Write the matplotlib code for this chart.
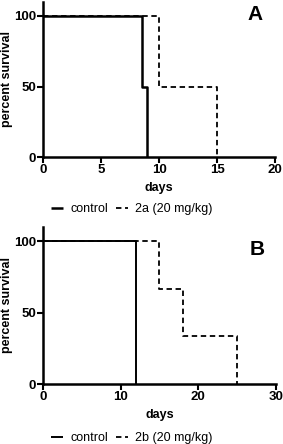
import matplotlib
matplotlib.use("Agg")
import matplotlib.pyplot as plt

plt.rcParams['font.family'] = ['Liberation Sans', 'DejaVu Sans']

# Panel A data
a_ctrl_days = [0, 8.5, 9]
a_ctrl_surv = [100, 50, 0]
a_trt_days = [0, 10, 15]
a_trt_surv = [100, 50, 0]
a_xticks = [0, 5, 10, 15, 20]

# Panel B data
b_ctrl_days = [0, 12]
b_ctrl_surv = [100, 0]
b_trt_days = [0, 15, 18, 25]
b_trt_surv = [100, 66.7, 33.3, 0]
b_xticks = [0, 10, 20, 30]

yticks = [0, 50, 100]

fig = plt.figure(figsize=(2.83, 4.44), dpi=100)
axA = fig.add_axes([0.152, 0.646, 0.82, 0.35])
axB = fig.add_axes([0.152, 0.135, 0.823, 0.354])

def style(ax, xticks, xmax, letter, lpos, trt_label, ctrl_days, ctrl_surv, trt_days, trt_surv, ctrl_lw):
    l1, = ax.plot(ctrl_days, ctrl_surv, drawstyle='steps-post', color='black', lw=ctrl_lw, solid_capstyle='butt', label='control')
    l2, = ax.plot(trt_days, trt_surv, drawstyle='steps-post', color='black', lw=1.3, ls=(0, (3, 2)), label=trt_label)
    ax.set_xlim(0, xmax)
    ax.set_ylim(0, 110)
    ax.set_xticks(xticks)
    ax.set_yticks(yticks)
    for s in ['top', 'right']:
        ax.spines[s].set_visible(False)
    for s in ['left', 'bottom']:
        ax.spines[s].set_linewidth(1.8)
    ax.tick_params(direction='out', length=4, width=1.5, labelsize=9.5, pad=1)
    for lab in ax.get_xticklabels() + ax.get_yticklabels():
        lab.set_fontweight('bold')
    ax.set_xlabel('days', fontsize=9, fontweight='bold', labelpad=4)
    ax.set_ylabel('percent survival', fontsize=9, fontweight='bold', labelpad=0.5)
    ax.text(lpos[0], lpos[1], letter, transform=ax.transAxes, fontsize=15, fontweight='bold', ha='center', va='center')
    return l1, l2

hA = style(axA, a_xticks, 20, 'A', (0.914, 0.916), '2a (20 mg/kg)', a_ctrl_days, a_ctrl_surv, a_trt_days, a_trt_surv, 1.8)
hB = style(axB, b_xticks, 30, 'B', (0.918, 0.857), '2b (20 mg/kg)', b_ctrl_days, b_ctrl_surv, b_trt_days, b_trt_surv, 1.4)

leg_kw = dict(loc='center', ncol=2, frameon=False, fontsize=9, handlelength=1.0,
              columnspacing=0.6, handletextpad=0.55, borderpad=0.0)
fig.legend(hA, [h.get_label() for h in hA], bbox_to_anchor=(0.465, 1 - 209/444), **leg_kw)
fig.legend(hB, [h.get_label() for h in hB], bbox_to_anchor=(0.465, 1 - 438/444), **leg_kw)

fig.savefig('out.png', dpi=100)
